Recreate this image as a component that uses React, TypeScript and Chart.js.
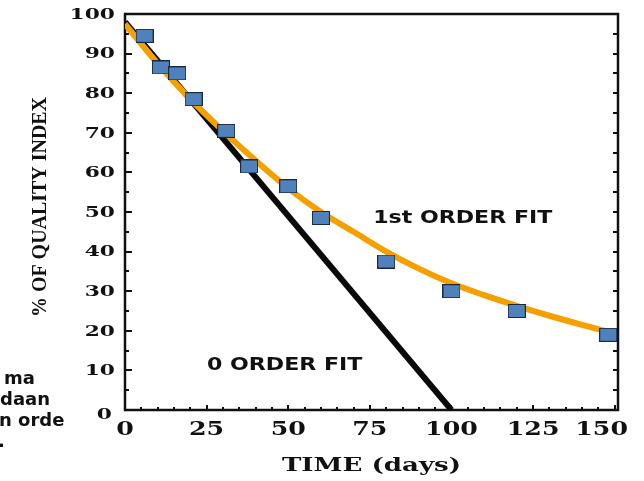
import React, { useEffect, useRef } from 'react';
import { Chart, registerables } from 'chart.js';

Chart.register(...registerables);

// ---- data ----
const measuredDays = [6, 11, 16, 21, 31, 38, 50, 60, 80, 100, 120, 148];
const measuredQuality = [94.5, 86.5, 85, 78.5, 70.5, 61.5, 56.5, 48.5, 37.5, 30, 25, 19];

const firstOrderDays = [0, 10, 20, 30, 40, 50, 60, 70, 80, 90, 100, 110, 120, 130, 140, 150];
const firstOrderQuality = [97.5, 87.5, 78.5, 70.5, 63, 56, 50, 45, 40, 35.7, 32, 29, 26.3, 23.8, 21.5, 19.3];

const zeroOrderDays = [0, 100];
const zeroOrderQuality = [98, 0];

const xTickValues = [0, 25, 50, 75, 100, 125, 150];
const yTickValues = [0, 10, 20, 30, 40, 50, 60, 70, 80, 90, 100];

const xTitle = 'TIME (days)';
const yTitle = '% OF QUALITY INDEX';
const firstOrderLabel = '1st ORDER FIT';
const zeroOrderLabel = '0 ORDER FIT';
const sideTextLines = ['ma', 'daan', 'n orde', '.'];

function makeMarker(): HTMLCanvasElement {
  const c = document.createElement('canvas');
  c.width = 18;
  c.height = 14;
  const g = c.getContext('2d')!;
  g.fillStyle = '#4F81BD';
  g.fillRect(0.5, 0.5, 17, 13);
  g.strokeStyle = '#1b2940';
  g.lineWidth = 1;
  g.strokeRect(0.5, 0.5, 17, 13);
  return c;
}

function stretchText(
  ctx: CanvasRenderingContext2D,
  text: string,
  x: number,
  y: number,
  sx: number,
  align: CanvasTextAlign,
  baseline: CanvasTextBaseline
) {
  ctx.save();
  ctx.translate(x, y);
  ctx.scale(sx, 1);
  ctx.textAlign = align;
  ctx.textBaseline = baseline;
  ctx.fillText(text, 0, 0);
  ctx.restore();
}

const decorPlugin = {
  id: 'decor',
  beforeDatasetsDraw(chart: any) {
    const { ctx, chartArea } = chart;
    const { left, right, top, bottom } = chartArea;
    const xs = chart.scales.x;
    const ys = chart.scales.y;
    ctx.save();
    ctx.strokeStyle = '#111';
    ctx.lineWidth = 2;
    for (let v = 0; v <= 100; v += 5) {
      const py = Math.round(ys.getPixelForValue(v));
      const lenL = v % 10 === 0 ? 7 : 4;
      ctx.beginPath();
      ctx.moveTo(left, py);
      ctx.lineTo(left + lenL, py);
      ctx.moveTo(right, py);
      ctx.lineTo(right - 5, py);
      ctx.stroke();
    }
    for (let v = 5; v < 151; v += 5) {
      const px = Math.round(xs.getPixelForValue(v));
      const len = v % 25 === 0 ? 5 : 3;
      ctx.beginPath();
      ctx.moveTo(px, bottom);
      ctx.lineTo(px, bottom - len);
      ctx.stroke();
    }
    ctx.lineWidth = 2.5;
    ctx.strokeRect(left, top, right - left, bottom - top);
    ctx.restore();
  },
  afterDraw(chart: any) {
    const { ctx, chartArea, width } = chart;
    const xs = chart.scales.x;
    const ys = chart.scales.y;
    ctx.save();
    ctx.fillStyle = '#111';

    ctx.font = 'bold 15px "DejaVu Serif"';
    ys.ticks.forEach((t: any) => {
      const py = ys.getPixelForValue(t.value);
      const isZero = t.value === 0;
      stretchText(ctx, String(t.value), isZero ? 112 : 115, py + (isZero ? 5 : 1), 1.45, 'right', 'middle');
    });

    ctx.font = 'bold 19px "DejaVu Serif"';
    xs.ticks.forEach((t: any) => {
      const label = String(t.value);
      const w = ctx.measureText(label).width * 1.33;
      let px = xs.getPixelForValue(t.value);
      px = Math.min(px, width - 16 - w / 2);
      stretchText(ctx, label, px, chartArea.bottom + 20, 1.33, 'center', 'middle');
    });

    ctx.font = 'bold 18px "DejaVu Serif"';
    stretchText(ctx, xTitle, (chartArea.left + chartArea.right) / 2, 471, 1.45, 'center', 'alphabetic');

    ctx.save();
    ctx.translate(41, 207);
    ctx.rotate(-Math.PI / 2);
    ctx.font = 'bold 21px "Liberation Serif"';
    ctx.textAlign = 'center';
    ctx.textBaseline = 'middle';
    ctx.scale(0.95, 1);
    ctx.fillText(yTitle, 0, 0);
    ctx.restore();

    ctx.font = 'bold 17px "DejaVu Sans"';
    stretchText(ctx, firstOrderLabel, xs.getPixelForValue(76), ys.getPixelForValue(47.3), 1.3, 'left', 'alphabetic');
    stretchText(ctx, zeroOrderLabel, xs.getPixelForValue(25.1), ys.getPixelForValue(10.1), 1.3, 'left', 'alphabetic');

    ctx.font = 'bold 18px "DejaVu Sans"';
    const sideX = [4, 0, -1, -2];
    sideTextLines.forEach((line, i) => {
      ctx.textAlign = 'left';
      ctx.textBaseline = 'alphabetic';
      ctx.fillText(line, sideX[i], 384 + i * 21);
    });
    ctx.restore();
  },
};

export default function App() {
  const canvasRef = useRef<HTMLCanvasElement>(null);

  useEffect(() => {
    const canvas = canvasRef.current;
    if (!canvas) return;
    const marker = makeMarker();
    const chart = new Chart(canvas, {
      type: 'scatter',
      data: {
        datasets: [
          {
            label: 'Measured',
            data: measuredDays.map((d, i) => ({ x: d, y: measuredQuality[i] })),
            pointStyle: marker as any,
            pointRadius: 9,
            showLine: false,
          },
          {
            label: 'First order fit',
            data: firstOrderDays.map((d, i) => ({ x: d, y: firstOrderQuality[i] })),
            showLine: true,
            borderColor: '#F4A000',
            borderWidth: 6,
            pointRadius: 0,
            cubicInterpolationMode: 'monotone',
            fill: false,
          },
          {
            label: 'Zero order fit',
            data: zeroOrderDays.map((d, i) => ({ x: d, y: zeroOrderQuality[i] })),
            showLine: true,
            borderColor: '#0a0a0a',
            borderWidth: 6,
            pointRadius: 0,
            fill: false,
          },
        ],
      },
      options: {
        responsive: false,
        animation: false,
        devicePixelRatio: 1,
        layout: { padding: { top: 14, right: 26, left: 0, bottom: 0 } },
        plugins: {
          legend: { display: false },
          tooltip: { enabled: false },
        },
        scales: {
          x: {
            type: 'linear',
            min: 0,
            max: 151,
            afterBuildTicks: (s: any) => {
              s.ticks = xTickValues.map((v) => ({ value: v }));
            },
            afterFit: (s: any) => {
              s.height = 71;
            },
            ticks: { display: false },
            grid: { display: false },
            border: { display: false },
          },
          y: {
            type: 'linear',
            min: 0,
            max: 100,
            afterBuildTicks: (s: any) => {
              s.ticks = yTickValues.map((v) => ({ value: v }));
            },
            afterFit: (s: any) => {
              s.width = 125;
            },
            ticks: { display: false },
            grid: { display: false },
            border: { display: false },
          },
        },
      },
      plugins: [decorPlugin],
    });
    return () => chart.destroy();
  }, []);

  return (
    <div style={{ position: 'fixed', left: 0, top: 0, width: 644, height: 481, background: '#fff' }}>
      <canvas ref={canvasRef} width={644} height={481} />
    </div>
  );
}
